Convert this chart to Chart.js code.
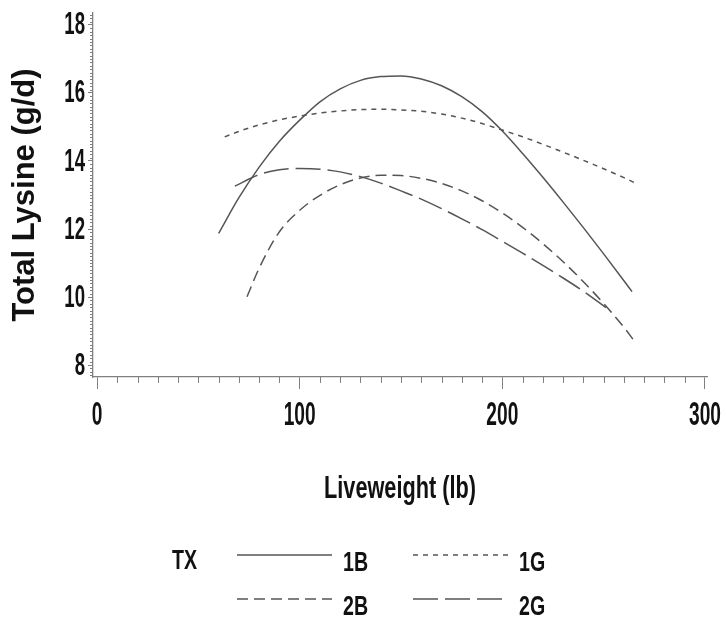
<!DOCTYPE html>
<html>
<head>
<meta charset="utf-8">
<script src="https://cdn.jsdelivr.net/npm/chart.js@4.4.1/dist/chart.umd.min.js"></script>
<style>
  html, body { margin: 0; padding: 0; background: #fff; }
</style>
</head>
<body>
<canvas id="myChart" width="726" height="622"></canvas>
<script>
// fitted lysine curves per treatment, liveweight (lb) vs total lysine (g/d)
var x_1B = [60, 70, 80, 90, 100, 110, 120, 130, 140, 150, 160, 170, 180, 190, 200, 210, 220, 230, 240, 250, 260, 264];
var y_1B = [11.87, 12.92, 13.82, 14.58, 15.20, 15.74, 16.12, 16.37, 16.48, 16.50, 16.41, 16.21, 15.89, 15.45, 14.88, 14.22, 13.52, 12.79, 12.04, 11.27, 10.48, 10.16];

var x_1G = [63, 70, 80, 90, 100, 110, 120, 130, 140, 150, 160, 170, 180, 190, 200, 210, 220, 230, 240, 250, 260, 265];
var y_1G = [14.71, 14.87, 15.06, 15.21, 15.32, 15.41, 15.47, 15.51, 15.52, 15.50, 15.46, 15.38, 15.26, 15.10, 14.91, 14.71, 14.49, 14.26, 14.02, 13.77, 13.51, 13.37];

var x_2B = [74, 80, 90, 100, 110, 120, 130, 140, 150, 160, 170, 180, 190, 200, 210, 220, 230, 240, 250, 260, 265];
var y_2B = [10.01, 10.85, 11.92, 12.55, 12.99, 13.30, 13.50, 13.58, 13.57, 13.49, 13.34, 13.12, 12.83, 12.47, 12.05, 11.57, 11.04, 10.45, 9.81, 9.11, 8.72];

var x_2G = [68, 80, 90, 100, 110, 120, 130, 140, 150, 160, 170, 180, 190, 200, 210, 220, 230, 240, 250, 254];
var y_2G = [13.26, 13.60, 13.74, 13.78, 13.76, 13.68, 13.54, 13.35, 13.12, 12.88, 12.60, 12.30, 11.98, 11.64, 11.29, 10.93, 10.56, 10.17, 9.74, 9.56];

var series_labels = ['1B', '1G', '2B', '2G'];
var legend_title = 'TX';
var x_title = 'Liveweight (lb)';
var y_title = 'Total Lysine (g/d)';
var x_ticks = [0, 100, 200, 300];
var y_ticks = [8, 10, 12, 14, 16, 18];

var lineColor = '#555';
var axisColor = '#808080';
var textColor = '#111';
var labelFont = "'Liberation Sans', Arial, sans-serif";

function points(xs, ys) {
    return xs.map((x, i) => ({ x: x, y: ys[i] }));
}

function lineSet(label, xs, ys, dash) {
    return {
        label: label,
        data: points(xs, ys),
        borderColor: lineColor,
        borderWidth: 1.5,
        borderDash: dash,
        pointRadius: 0,
        cubicInterpolationMode: 'monotone',
        fill: false
    };
}

// tall, narrow lettering for tick labels and the key
function narrowText(ctx, text, x, y, align, size, squeeze) {
    ctx.save();
    ctx.translate(x, y);
    ctx.scale(squeeze, 1);
    ctx.font = 'bold ' + size + 'px ' + labelFont;
    ctx.textAlign = align;
    ctx.textBaseline = 'middle';
    ctx.fillStyle = textColor;
    ctx.fillText(text, 0, 0);
    ctx.restore();
}

// small ticks between the labelled ones
const minorTicks = {
    id: 'minorTicks',
    afterDraw(chart) {
        const { ctx, scales: { x, y } } = chart;
        ctx.save();
        ctx.strokeStyle = axisColor;
        ctx.lineWidth = 1;
        ctx.beginPath();
        for (let v = 10; v < 300; v += 10) {
            if (v % 100 === 0) continue;
            const px = Math.round(x.getPixelForValue(v)) + 0.5;
            ctx.moveTo(px, x.top);
            ctx.lineTo(px, x.top + 6);
        }
        for (let i = 77; i <= 183; i++) {
            if (i % 20 === 0) continue;
            const py = Math.round(y.getPixelForValue(i / 10)) + 0.5;
            ctx.moveTo(y.right - 3, py);
            ctx.lineTo(y.right, py);
        }
        ctx.stroke();
        ctx.restore();
    }
};

// tick labels and x title
const axisLabels = {
    id: 'axisLabels',
    afterDraw(chart) {
        const { ctx, scales: { x, y } } = chart;
        x.ticks.forEach(t => {
            narrowText(ctx, String(t.value), x.getPixelForValue(t.value), 416, 'center', 33, 0.58);
        });
        y.ticks.forEach(t => {
            narrowText(ctx, String(t.value), 85, y.getPixelForValue(t.value) + 1, 'right', 31, 0.6);
        });
        narrowText(ctx, x_title, (x.left + x.right) / 2, 489, 'center', 31, 0.7);
    }
};

// two-column key under the plot: "TX" then line sample + label
const txLegend = {
    id: 'txLegend',
    afterDraw(chart) {
        const ctx = chart.ctx;
        narrowText(ctx, legend_title, 172, 561, 'left', 28, 0.7);
        chart.data.datasets.forEach((ds, i) => {
            const col = i % 2;
            const row = Math.floor(i / 2);
            const x0 = 237 + col * 176;
            const y0 = 555 + row * 44;
            ctx.save();
            ctx.strokeStyle = ds.borderColor;
            ctx.lineWidth = ds.borderWidth;
            ctx.setLineDash(ds.borderDash || []);
            ctx.beginPath();
            ctx.moveTo(x0, y0);
            ctx.lineTo(x0 + 95, y0);
            ctx.stroke();
            ctx.restore();
            narrowText(ctx, ds.label, x0 + 106, y0 + 8, 'left', 28, 0.7);
        });
    }
};

const ctx = document.getElementById('myChart').getContext('2d');
const myChart = new Chart(ctx, {
    type: 'line',
    data: {
        datasets: [
            lineSet(series_labels[0], x_1B, y_1B, []),
            lineSet(series_labels[1], x_1G, y_1G, [5, 5]),
            lineSet(series_labels[2], x_2B, y_2B, [11, 6]),
            lineSet(series_labels[3], x_2G, y_2G, [25, 7])
        ]
    },
    options: {
        responsive: false,
        animation: false,
        devicePixelRatio: 1,
        layout: {
            padding: { top: 13, right: 19, bottom: 110, left: 0 }
        },
        plugins: {
            legend: { display: false },
            tooltip: { enabled: false }
        },
        scales: {
            x: {
                type: 'linear',
                min: -2,
                max: 301,
                afterBuildTicks: scale => { scale.ticks = x_ticks.map(v => ({ value: v })); },
                afterFit: scale => { scale.height = 135; },
                grid: { drawOnChartArea: false, drawTicks: true, tickLength: 12, color: axisColor, tickWidth: 1 },
                border: { color: axisColor, width: 1.3 },
                ticks: { display: false }
            },
            y: {
                min: 7.65,
                max: 18.35,
                afterBuildTicks: scale => { scale.ticks = y_ticks.map(v => ({ value: v })); },
                afterFit: scale => { scale.width = 93; },
                grid: { drawOnChartArea: false, drawTicks: true, tickLength: 5, color: axisColor, tickWidth: 1 },
                border: { color: axisColor, width: 1.3 },
                ticks: { display: false },
                title: {
                    display: true,
                    text: y_title,
                    color: textColor,
                    font: { family: labelFont, size: 31, weight: 'bold' },
                    padding: { top: 7, bottom: 0 }
                }
            }
        }
    },
    plugins: [minorTicks, axisLabels, txLegend]
});
</script>
</body>
</html>
